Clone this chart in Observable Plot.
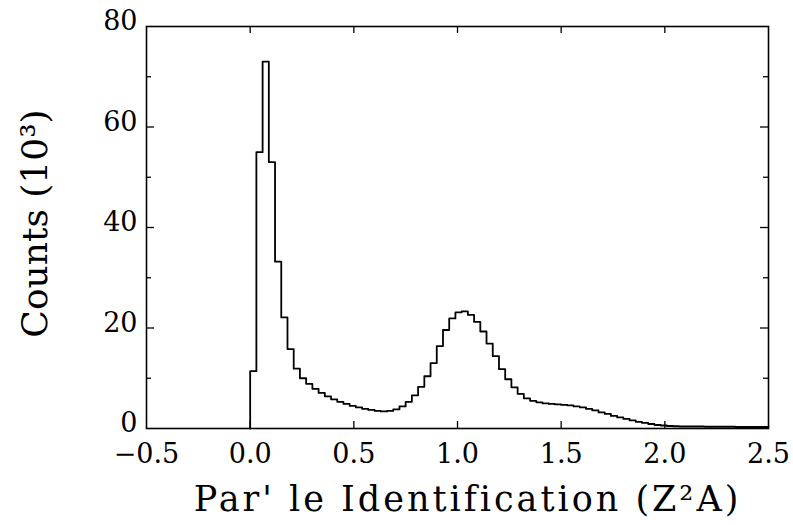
<!DOCTYPE html>
<html>
<head>
<meta charset="utf-8">
<script src="https://cdn.jsdelivr.net/npm/d3@7"></script>
<script src="https://cdn.jsdelivr.net/npm/@observablehq/plot@0.6"></script>
<style>
  html, body { margin: 0; padding: 0; background: #fff; }
  #chart svg { display: block; }
</style>
</head>
<body>
<div id="chart"></div>
<script>
// ---- Data ----
const binStart = 0.0;            // left edge of first filled bin
const binWidth = 0.03;           // histogram bin width
// counts per bin, in units of 10^3
const counts = [
  11.4, 55.0, 73.0, 53.0, 33.2, 22.1, 15.8, 11.9, 10.0, 8.9,
  7.9, 7.1, 6.4, 5.8, 5.3, 4.9, 4.5, 4.2, 3.9, 3.7,
  3.5, 3.4, 3.5, 3.8, 4.4, 5.3, 6.6, 8.3, 10.4, 13.0,
  16.4, 19.6, 21.9, 23.1, 23.3, 22.6, 21.2, 19.3, 16.9, 14.4,
  11.8, 9.8, 8.2, 6.9, 6.0, 5.5, 5.2, 5.0, 4.9, 4.8,
  4.7, 4.6, 4.4, 4.2, 3.9, 3.6, 3.2, 2.9, 2.5, 2.2,
  1.9, 1.6, 1.3, 1.1, 0.9, 0.7, 0.6, 0.5, 0.45, 0.4,
  0.4, 0.4, 0.4, 0.35, 0.35, 0.35, 0.35, 0.35, 0.3, 0.3,
  0.3, 0.3, 0.3
];
const xTicks = [-0.5, 0.0, 0.5, 1.0, 1.5, 2.0, 2.5];
const xTickLabels = ["\u22120.5", "0.0", "0.5", "1.0", "1.5", "2.0", "2.5"];
const yTicks = [0, 20, 40, 60, 80];
const yMinorTicks = [10, 30, 50, 70];
const xLabel = "Par' le Identification (Z\u00B2A)";
const yLabel = "Counts (10\u00B3)";

// ---- Layout ----
const W = 793, H = 525;
const mL = 146, mR = 25, mT = 26, mB = 97;
const iW = W - mL - mR, iH = H - mT - mB;
const xDomain = [xTicks[0], xTicks[xTicks.length - 1]];

// step outline points built from the bins
const pts = [{x: binStart, y: 0}]
  .concat(counts.map((c, i) => ({x: binStart + i * binWidth, y: c})))
  .concat([{x: xDomain[1], y: counts[counts.length - 1]}]);

const innerX = xTicks.slice(1, -1);
const innerY = yTicks.slice(1, -1);

const chart = Plot.plot({
  width: W, height: H,
  marginLeft: mL, marginRight: mR, marginTop: mT, marginBottom: mB,
  x: {domain: xDomain},
  y: {domain: [0, 80]},
  style: {fontFamily: "'DejaVu Serif', serif", fontSize: "27px", color: "#000", background: "#fff"},
  marks: [
    Plot.frame({stroke: "#000", strokeWidth: 1.6}),
    // inward ticks, bottom & top
    Plot.tickX(innerX, {x: d => d, insetTop: iH - 7, stroke: "#000", strokeWidth: 1.3}),
    Plot.tickX(innerX, {x: d => d, insetBottom: iH - 7, stroke: "#000", strokeWidth: 1.3}),
    // inward ticks, left & right (major and minor)
    Plot.tickY(innerY, {y: d => d, insetRight: iW - 8, stroke: "#000", strokeWidth: 1.3}),
    Plot.tickY(yMinorTicks, {y: d => d, insetRight: iW - 5, stroke: "#000", strokeWidth: 1.3}),
    Plot.tickY(innerY, {y: d => d, insetLeft: iW - 8, stroke: "#000", strokeWidth: 1.3}),
    Plot.tickY(yMinorTicks, {y: d => d, insetLeft: iW - 5, stroke: "#000", strokeWidth: 1.3}),
    Plot.axisX(xTicks, {tickSize: 0, tickPadding: 15, fontSize: 27,
      tickFormat: d => xTickLabels[xTicks.indexOf(d)], label: null}),
    Plot.axisY(yTicks, {tickSize: 0, tickPadding: 9, dy: -5, fontSize: 27, label: null}),
    Plot.lineY(pts, {x: "x", y: "y", curve: "step-after", stroke: "#000", strokeWidth: 1.8}),
    Plot.text([xLabel], {text: d => d, frameAnchor: "bottom", lineAnchor: "middle", textAnchor: "middle",
      dy: 71, dx: 10, fontSize: 35, fill: "#000"}),
    Plot.text([yLabel], {text: d => d, frameAnchor: "left", lineAnchor: "middle", textAnchor: "middle",
      dx: -111, dy: -4, rotate: -90, fontSize: 36, fill: "#000"})
  ]
});
// letter spacing on the x title
chart.querySelectorAll("text").forEach(t => {
  if (t.textContent === xLabel) t.setAttribute("letter-spacing", "3");
});
document.getElementById("chart").appendChild(chart);
</script>
</body>
</html>
